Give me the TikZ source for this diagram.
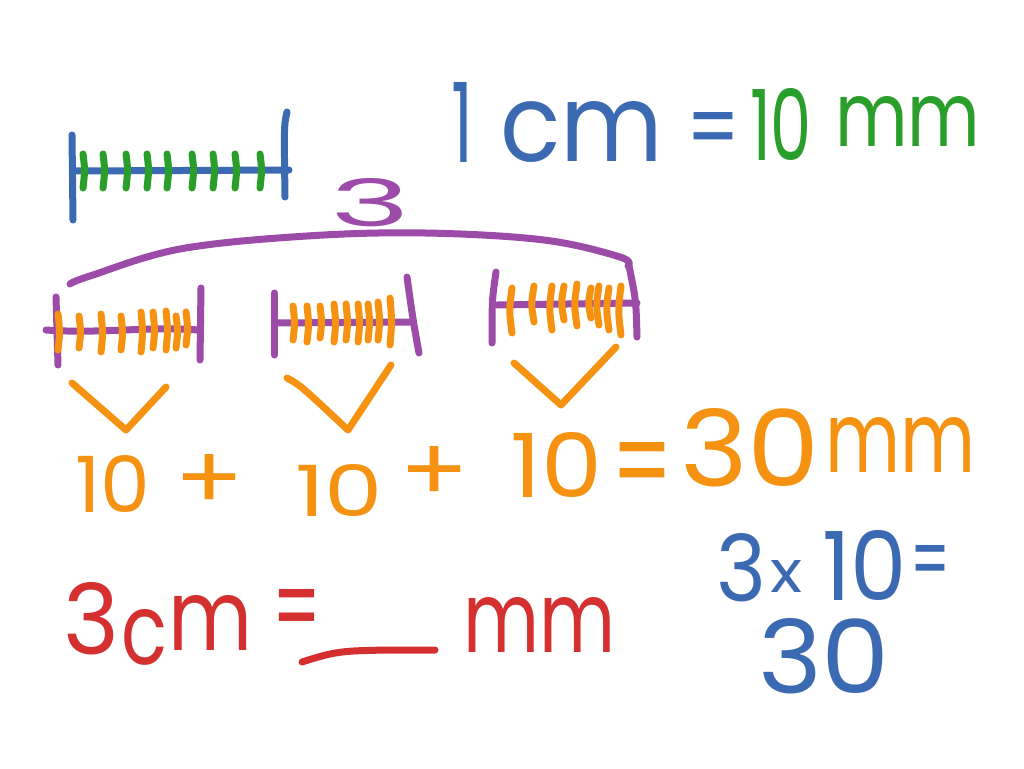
\documentclass[tikz,border=0pt]{standalone}
\usepackage{fontspec}
\setmainfont{Poppins}
\usepackage{graphicx}
\definecolor{cblue}{RGB}{60,106,178}
\definecolor{cgreen}{RGB}{42,158,42}
\definecolor{cpurple}{RGB}{156,76,168}
\definecolor{corange}{RGB}{246,146,18}
\definecolor{cred}{RGB}{212,48,48}
\newcommand{\hwb}[3]{\resizebox{#1pt}{#2pt}{#3}}
\tikzset{
  pen/.style={line width=7pt, line cap=round, line join=round},
  txt/.style={inner sep=0pt, outer sep=0pt, anchor=south west},
  sym/.style={inner sep=0pt, outer sep=0pt, anchor=center}
}
\begin{document}
\begin{tikzpicture}[x=1pt,y=-1pt]
\fill[white] (0,0) rectangle (1024,768);
\useasboundingbox (0,0) rectangle (1024,768);

% ruler 1 cm
\draw[pen,cblue] (72,135) -- (73,220);
\draw[pen,cblue] (287,112) .. controls (284,125) .. (285,197);
\draw[pen,cblue] (74,171) -- (289,170);
\foreach \x in {83,103,126,147,167,192,213,235,260}
  \draw[pen,cgreen] (\x,154) .. controls (\x+2,170) .. (\x,188);

% brace and 3
\draw[pen,cpurple] plot[smooth, tension=0.6] coordinates {(70,284)(90,276)(180,249)(307,236)(425,233)(544,240)(620,257)(628,266)};
\node[txt,text=cpurple] (three) at (330,227) {\hwb{80}{48}{3}};

% ruler A
\draw[pen,cpurple] (56,297) -- (58,365);
\draw[pen,cpurple] (201,288) -- (200,360);
\draw[pen,cpurple] (46,330) .. controls (100,334) and (150,326) .. (198,330);
\foreach \x/\a/\b in {58/314/350,79/316/348,101/314/352,121/316/350,141/312/352,153/312/348,166/311/350,176/316/348,186/312/345}
  \draw[pen,corange] (\x,\a) .. controls (\x+2,{(\a+\b)/2}) .. (\x,\b);

% ruler B
\draw[pen,cpurple] (274,293) -- (274,355);
\draw[pen,cpurple] (407,277) .. controls (413,320) .. (419,353);
\draw[pen,cpurple] (275,323) -- (411,322);
\foreach \x/\a/\b in {293/306/340,307/306/342,320/306/338,334/304/342,346/304/340,358/304/342,368/304/340,378/302/340,390/298/345}
  \draw[pen,corange] (\x,\a) .. controls (\x+2,{(\a+\b)/2}) .. (\x,\b);

% ruler C
\draw[pen,cpurple] (496,272) .. controls (492,300) .. (492,343);
\draw[pen,cpurple] (629,266) .. controls (636,300) .. (637,337);
\draw[pen,cpurple] (497,305) -- (637,303);
\foreach \x/\a/\b in {512/288/333,534/286/322,552/286/330,564/286/320,577/284/326,591/288/318,599/286/325,609/288/330,621/286/335}
  \draw[pen,corange] (\x,\a) .. controls (\x-3,{(\a+\b)/2}) .. (\x,\b);

% V marks
\draw[pen,corange] (72,383) -- (126,430) -- (166,387);
\draw[pen,corange] (287,378) .. controls (300,385) .. (348,430) -- (391,365);
\draw[pen,corange] (514,363) -- (561,405) -- (616,347);

% 1 cm = 10 mm
\node[sym,text=cblue] (one) at (462,122) {\hwb{22}{80}{1}};
\node[txt,text=cblue] (cm) at (500,162) {\hwb{163}{60}{cm}};
\node[sym,text=cblue] (eq1) at (714,136) {\hwb{54}{48}{=}};
\node[txt,text=cgreen] (ten) at (750,160) {\hwb{62}{72}{10}};
\node[txt,text=cgreen] (mm1) at (835,146) {\hwb{145}{50}{mm}};

% 10 + 10 + 10 = 30 mm
\node[txt,text=corange] (ta) at (75,512) {\hwb{75}{57}{10}};
\node[sym,text=corange] (pa) at (210,482) {\hwb{70}{55}{+}};
\node[txt,text=corange] (tb) at (295,516) {\hwb{88}{52}{10}};
\node[sym,text=corange] (pb) at (435,474) {\hwb{70}{55}{+}};
\node[txt,text=corange] (tc) at (510,497) {\hwb{92}{65}{10}};
\node[sym,text=corange] (eq2) at (643,473) {\hwb{62}{62}{=}};
\node[txt,text=corange] (thirty) at (680,487) {\hwb{140}{78}{30}};
\node[txt,text=corange] (mm2) at (825,472) {\hwb{150}{55}{mm}};

% 3cm = ___ mm
\node[txt,text=cred] (r3) at (63,655) {\hwb{56}{72}{3}};
\node[txt,text=cred] (rc) at (121,665) {\hwb{46}{55}{c}};
\node[txt,text=cred] (rm) at (168,650) {\hwb{84}{55}{m}};
\node[sym,text=cred] (eq3) at (297,617) {\hwb{49}{56}{=}};
\draw[pen,cred] (302,662) .. controls (340,650) .. (435,650);
\node[txt,text=cred] (mm3) at (463,652) {\hwb{152}{55}{mm}};

% 3x10= 30
\node[txt,text=cblue] (b3) at (716,602) {\hwb{50}{68}{3}};
\node[txt,text=cblue] (bx) at (770,592) {\hwb{32}{32}{x}};
\node[txt,text=cblue] (b10) at (822,600) {\hwb{85}{70}{10}};
\node[sym,text=cblue] (eq4) at (930,568) {\hwb{40}{45}{=}};
\node[txt,text=cblue] (b30) at (758,694) {\hwb{132}{75}{30}};
\end{tikzpicture}
\end{document}
